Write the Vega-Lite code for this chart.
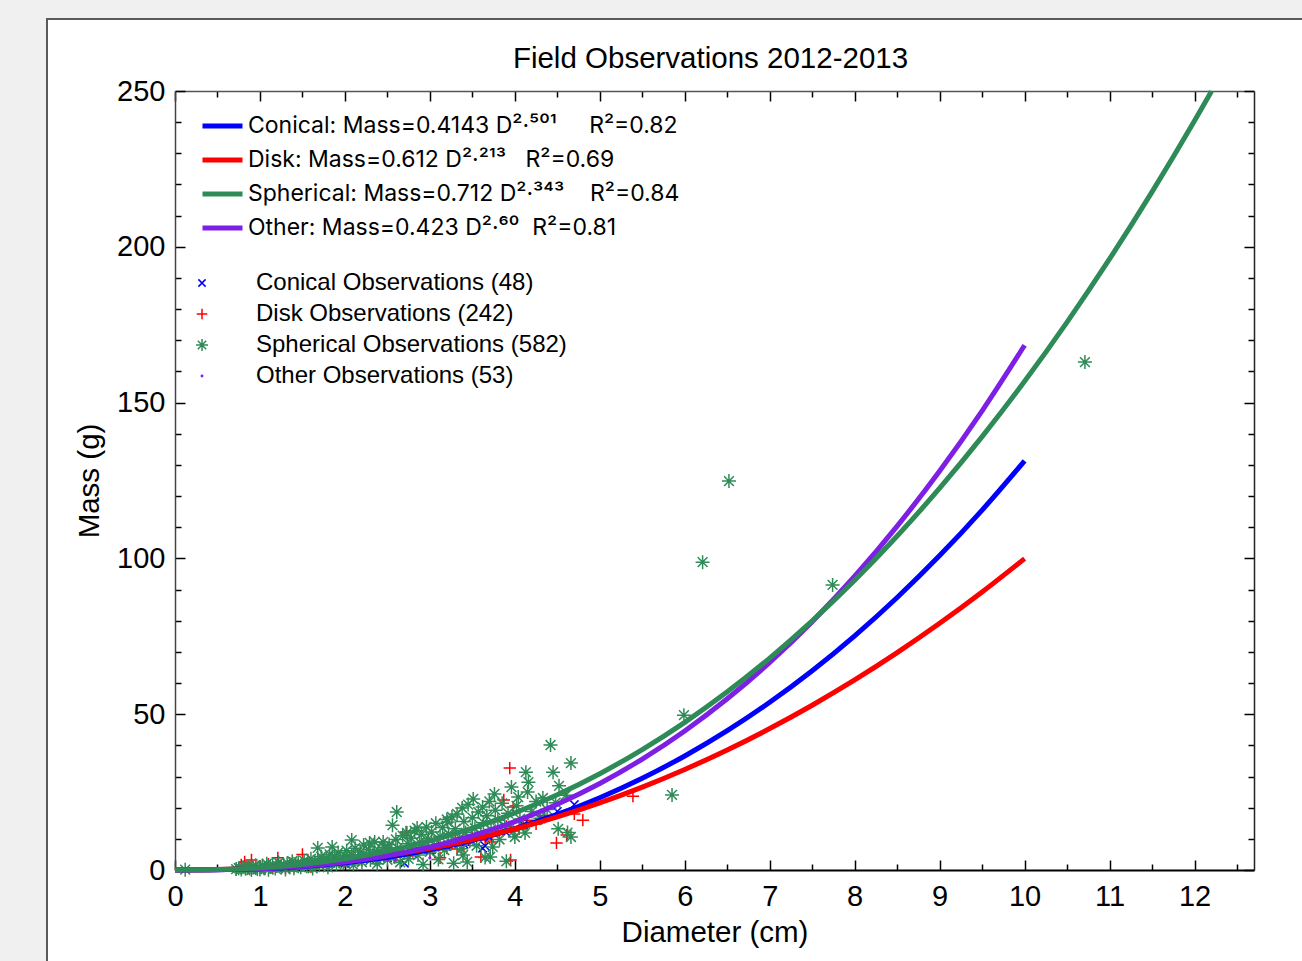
{
  "$schema": "https://vega.github.io/schema/vega-lite/v6.json",
  "width": 1257,
  "height": 944,
  "autosize": {"type": "none"},
  "padding": {"left": 47, "top": 19, "right": -2, "bottom": -2},
  "background": "#f0f0f0",
  "title": {
    "text": "Field Observations 2012-2013",
    "font": "Liberation Sans",
    "fontSize": 29.5,
    "fontWeight": "normal",
    "color": "black",
    "anchor": "middle",
    "frame": "group",
    "dx": 35,
    "dy": 59
  },
  "datasets": {
    "obs": [
      {"g": "Disk", "d": 0.72, "m": 0.2}, {"g": "Disk", "d": 0.78, "m": 1.6}, {"g": "Disk", "d": 0.82, "m": 2.6}, {"g": "Disk", "d": 0.86, "m": 0.5},
      {"g": "Disk", "d": 0.9, "m": 3.2}, {"g": "Disk", "d": 0.95, "m": 0.9}, {"g": "Disk", "d": 1.0, "m": 1.2}, {"g": "Disk", "d": 1.05, "m": 0.3},
      {"g": "Disk", "d": 1.1, "m": 1.9}, {"g": "Disk", "d": 1.15, "m": 0.7}, {"g": "Disk", "d": 1.21, "m": 3.9}, {"g": "Disk", "d": 1.25, "m": 1.5},
      {"g": "Disk", "d": 1.3, "m": 0.6}, {"g": "Disk", "d": 1.35, "m": 2.2}, {"g": "Disk", "d": 1.4, "m": 1.1}, {"g": "Disk", "d": 1.5, "m": 5.0},
      {"g": "Disk", "d": 1.55, "m": 2.0}, {"g": "Disk", "d": 1.6, "m": 1.0}, {"g": "Disk", "d": 1.7, "m": 3.0}, {"g": "Disk", "d": 1.8, "m": 2.1},
      {"g": "Disk", "d": 1.9, "m": 3.4}, {"g": "Disk", "d": 2.0, "m": 2.6}, {"g": "Disk", "d": 2.1, "m": 4.4}, {"g": "Disk", "d": 2.2, "m": 3.1},
      {"g": "Disk", "d": 2.3, "m": 4.8}, {"g": "Disk", "d": 2.4, "m": 3.5}, {"g": "Disk", "d": 2.5, "m": 5.5}, {"g": "Disk", "d": 2.6, "m": 4.1},
      {"g": "Disk", "d": 2.72, "m": 12.2}, {"g": "Disk", "d": 2.8, "m": 5.9}, {"g": "Disk", "d": 2.9, "m": 7.2}, {"g": "Disk", "d": 3.0, "m": 5.4},
      {"g": "Disk", "d": 3.1, "m": 8.4}, {"g": "Disk", "d": 3.12, "m": 3.9}, {"g": "Disk", "d": 3.2, "m": 7.0}, {"g": "Disk", "d": 3.3, "m": 9.5},
      {"g": "Disk", "d": 3.32, "m": 6.7}, {"g": "Disk", "d": 3.4, "m": 8.0}, {"g": "Disk", "d": 3.5, "m": 10.8}, {"g": "Disk", "d": 3.6, "m": 4.2},
      {"g": "Disk", "d": 3.65, "m": 9.6}, {"g": "Disk", "d": 3.73, "m": 9.0}, {"g": "Disk", "d": 3.8, "m": 12.5}, {"g": "Disk", "d": 3.87, "m": 22.5},
      {"g": "Disk", "d": 3.9, "m": 14.0}, {"g": "Disk", "d": 3.94, "m": 32.7}, {"g": "Disk", "d": 3.95, "m": 3.2}, {"g": "Disk", "d": 3.98, "m": 20.2},
      {"g": "Disk", "d": 4.05, "m": 13.2}, {"g": "Disk", "d": 4.15, "m": 16.0}, {"g": "Disk", "d": 4.25, "m": 14.8}, {"g": "Disk", "d": 4.35, "m": 17.5},
      {"g": "Disk", "d": 4.49, "m": 8.7}, {"g": "Disk", "d": 4.61, "m": 11.2}, {"g": "Disk", "d": 4.7, "m": 18.0}, {"g": "Disk", "d": 4.8, "m": 16.0},
      {"g": "Disk", "d": 5.39, "m": 23.7},
      {"g": "Conical", "d": 1.2, "m": 0.9}, {"g": "Conical", "d": 1.6, "m": 1.5}, {"g": "Conical", "d": 2.0, "m": 2.2}, {"g": "Conical", "d": 2.3, "m": 3.3},
      {"g": "Conical", "d": 2.5, "m": 3.9}, {"g": "Conical", "d": 2.7, "m": 2.2}, {"g": "Conical", "d": 2.8, "m": 5.2}, {"g": "Conical", "d": 3.0, "m": 6.0},
      {"g": "Conical", "d": 3.2, "m": 7.5}, {"g": "Conical", "d": 3.4, "m": 8.3}, {"g": "Conical", "d": 3.5, "m": 9.1}, {"g": "Conical", "d": 3.62, "m": 7.0},
      {"g": "Conical", "d": 3.65, "m": 7.7}, {"g": "Conical", "d": 3.7, "m": 10.5}, {"g": "Conical", "d": 3.9, "m": 12.0}, {"g": "Conical", "d": 4.1, "m": 14.5},
      {"g": "Conical", "d": 4.3, "m": 16.5}, {"g": "Conical", "d": 4.5, "m": 18.8}, {"g": "Conical", "d": 4.7, "m": 21.0},
      {"g": "Spherical", "d": 0.12, "m": 0.1},
      {"g": "Spherical", "d": 0.72, "m": 0.3}, {"g": "Spherical", "d": 0.75, "m": 0.6}, {"g": "Spherical", "d": 0.78, "m": 0.2}, {"g": "Spherical", "d": 0.8, "m": 0.9},
      {"g": "Spherical", "d": 0.83, "m": 0.4}, {"g": "Spherical", "d": 0.86, "m": 1.2}, {"g": "Spherical", "d": 0.88, "m": 0.5}, {"g": "Spherical", "d": 0.9, "m": 0.0},
      {"g": "Spherical", "d": 0.92, "m": 0.8}, {"g": "Spherical", "d": 0.95, "m": 1.5}, {"g": "Spherical", "d": 0.97, "m": 0.3}, {"g": "Spherical", "d": 1.0, "m": 0.9},
      {"g": "Spherical", "d": 1.0, "m": 0.2},
      {"g": "Spherical", "d": 1.03, "m": 1.4}, {"g": "Spherical", "d": 1.06, "m": 0.6}, {"g": "Spherical", "d": 1.08, "m": 2.0}, {"g": "Spherical", "d": 1.1, "m": 0.1},
      {"g": "Spherical", "d": 1.12, "m": 1.0}, {"g": "Spherical", "d": 1.15, "m": 1.8}, {"g": "Spherical", "d": 1.18, "m": 0.5}, {"g": "Spherical", "d": 1.2, "m": 1.3},
      {"g": "Spherical", "d": 1.22, "m": 2.4}, {"g": "Spherical", "d": 1.25, "m": 0.8}, {"g": "Spherical", "d": 1.28, "m": 1.6}, {"g": "Spherical", "d": 1.3, "m": 0.2},
      {"g": "Spherical", "d": 1.32, "m": 2.2}, {"g": "Spherical", "d": 1.35, "m": 1.1}, {"g": "Spherical", "d": 1.38, "m": 2.8}, {"g": "Spherical", "d": 1.4, "m": 0.6},
      {"g": "Spherical", "d": 1.42, "m": 1.7}, {"g": "Spherical", "d": 1.45, "m": 2.5}, {"g": "Spherical", "d": 1.48, "m": 0.9}, {"g": "Spherical", "d": 1.5, "m": 1.9},
      {"g": "Spherical", "d": 1.52, "m": 3.0}, {"g": "Spherical", "d": 1.55, "m": 1.2}, {"g": "Spherical", "d": 1.57, "m": 2.4}, {"g": "Spherical", "d": 1.6, "m": 3.6},
      {"g": "Spherical", "d": 1.62, "m": 0.5}, {"g": "Spherical", "d": 1.65, "m": 2.0}, {"g": "Spherical", "d": 1.68, "m": 7.1}, {"g": "Spherical", "d": 1.68, "m": 3.2},
      {"g": "Spherical", "d": 1.7, "m": 1.5}, {"g": "Spherical", "d": 1.72, "m": 4.3}, {"g": "Spherical", "d": 1.75, "m": 2.6}, {"g": "Spherical", "d": 1.78, "m": 3.8},
      {"g": "Spherical", "d": 1.8, "m": 0.9}, {"g": "Spherical", "d": 1.82, "m": 5.0}, {"g": "Spherical", "d": 1.85, "m": 7.4}, {"g": "Spherical", "d": 1.85, "m": 2.9},
      {"g": "Spherical", "d": 1.88, "m": 4.2}, {"g": "Spherical", "d": 1.9, "m": 1.8}, {"g": "Spherical", "d": 1.92, "m": 5.6}, {"g": "Spherical", "d": 1.95, "m": 3.3},
      {"g": "Spherical", "d": 1.98, "m": 2.2}, {"g": "Spherical", "d": 2.0, "m": 4.6},
      {"g": "Spherical", "d": 2.02, "m": 6.2}, {"g": "Spherical", "d": 2.05, "m": 2.8}, {"g": "Spherical", "d": 2.08, "m": 9.6}, {"g": "Spherical", "d": 2.08, "m": 4.9},
      {"g": "Spherical", "d": 2.1, "m": 1.6}, {"g": "Spherical", "d": 2.12, "m": 7.0}, {"g": "Spherical", "d": 2.15, "m": 3.9}, {"g": "Spherical", "d": 2.18, "m": 5.8},
      {"g": "Spherical", "d": 2.2, "m": 2.5}, {"g": "Spherical", "d": 2.22, "m": 8.0}, {"g": "Spherical", "d": 2.25, "m": 4.7}, {"g": "Spherical", "d": 2.28, "m": 6.6},
      {"g": "Spherical", "d": 2.29, "m": 8.7}, {"g": "Spherical", "d": 2.3, "m": 3.2}, {"g": "Spherical", "d": 2.33, "m": 5.4}, {"g": "Spherical", "d": 2.35, "m": 9.0},
      {"g": "Spherical", "d": 2.38, "m": 2.0}, {"g": "Spherical", "d": 2.4, "m": 6.2}, {"g": "Spherical", "d": 2.42, "m": 4.0}, {"g": "Spherical", "d": 2.45, "m": 9.0},
      {"g": "Spherical", "d": 2.46, "m": 7.3}, {"g": "Spherical", "d": 2.48, "m": 5.0}, {"g": "Spherical", "d": 2.5, "m": 3.3},
      {"g": "Spherical", "d": 2.52, "m": 8.2}, {"g": "Spherical", "d": 2.55, "m": 6.0}, {"g": "Spherical", "d": 2.56, "m": 14.4}, {"g": "Spherical", "d": 2.58, "m": 4.2},
      {"g": "Spherical", "d": 2.61, "m": 18.6}, {"g": "Spherical", "d": 2.6, "m": 9.8}, {"g": "Spherical", "d": 2.62, "m": 7.0}, {"g": "Spherical", "d": 2.65, "m": 2.5},
      {"g": "Spherical", "d": 2.68, "m": 11.0}, {"g": "Spherical", "d": 2.7, "m": 5.5}, {"g": "Spherical", "d": 2.73, "m": 11.9}, {"g": "Spherical", "d": 2.74, "m": 8.4},
      {"g": "Spherical", "d": 2.75, "m": 3.6}, {"g": "Spherical", "d": 2.78, "m": 10.2}, {"g": "Spherical", "d": 2.8, "m": 6.8}, {"g": "Spherical", "d": 2.82, "m": 12.6},
      {"g": "Spherical", "d": 2.85, "m": 13.5}, {"g": "Spherical", "d": 2.86, "m": 4.8}, {"g": "Spherical", "d": 2.88, "m": 8.9}, {"g": "Spherical", "d": 2.9, "m": 11.4},
      {"g": "Spherical", "d": 2.92, "m": 1.8}, {"g": "Spherical", "d": 2.94, "m": 7.5}, {"g": "Spherical", "d": 2.96, "m": 13.8}, {"g": "Spherical", "d": 2.98, "m": 10.0},
      {"g": "Spherical", "d": 3.0, "m": 5.8},
      {"g": "Spherical", "d": 3.02, "m": 12.2}, {"g": "Spherical", "d": 3.05, "m": 8.0}, {"g": "Spherical", "d": 3.07, "m": 15.0}, {"g": "Spherical", "d": 3.1, "m": 3.4},
      {"g": "Spherical", "d": 3.12, "m": 10.8}, {"g": "Spherical", "d": 3.15, "m": 13.6}, {"g": "Spherical", "d": 3.17, "m": 6.4}, {"g": "Spherical", "d": 3.2, "m": 16.2},
      {"g": "Spherical", "d": 3.21, "m": 15.4}, {"g": "Spherical", "d": 3.22, "m": 11.6}, {"g": "Spherical", "d": 3.25, "m": 8.6}, {"g": "Spherical", "d": 3.26, "m": 17.0},
      {"g": "Spherical", "d": 3.28, "m": 2.2}, {"g": "Spherical", "d": 3.3, "m": 13.2}, {"g": "Spherical", "d": 3.32, "m": 18.0}, {"g": "Spherical", "d": 3.35, "m": 10.4},
      {"g": "Spherical", "d": 3.38, "m": 19.9}, {"g": "Spherical", "d": 3.37, "m": 6.8}, {"g": "Spherical", "d": 3.39, "m": 4.8}, {"g": "Spherical", "d": 3.4, "m": 15.6},
      {"g": "Spherical", "d": 3.42, "m": 12.0}, {"g": "Spherical", "d": 3.44, "m": 2.6}, {"g": "Spherical", "d": 3.45, "m": 21.0}, {"g": "Spherical", "d": 3.47, "m": 9.2},
      {"g": "Spherical", "d": 3.5, "m": 16.8},
      {"g": "Spherical", "d": 3.51, "m": 22.8}, {"g": "Spherical", "d": 3.53, "m": 13.4}, {"g": "Spherical", "d": 3.55, "m": 7.8}, {"g": "Spherical", "d": 3.57, "m": 18.6},
      {"g": "Spherical", "d": 3.6, "m": 11.2}, {"g": "Spherical", "d": 3.62, "m": 20.2}, {"g": "Spherical", "d": 3.63, "m": 15.2}, {"g": "Spherical", "d": 3.65, "m": 4.0},
      {"g": "Spherical", "d": 3.67, "m": 17.4}, {"g": "Spherical", "d": 3.7, "m": 22.0}, {"g": "Spherical", "d": 3.71, "m": 4.2}, {"g": "Spherical", "d": 3.72, "m": 13.0},
      {"g": "Spherical", "d": 3.74, "m": 7.4}, {"g": "Spherical", "d": 3.76, "m": 24.4}, {"g": "Spherical", "d": 3.77, "m": 19.2}, {"g": "Spherical", "d": 3.8, "m": 16.0},
      {"g": "Spherical", "d": 3.82, "m": 9.8}, {"g": "Spherical", "d": 3.85, "m": 21.4}, {"g": "Spherical", "d": 3.88, "m": 14.2}, {"g": "Spherical", "d": 3.9, "m": 2.8},
      {"g": "Spherical", "d": 3.92, "m": 18.2}, {"g": "Spherical", "d": 3.96, "m": 26.6}, {"g": "Spherical", "d": 3.98, "m": 12.4}, {"g": "Spherical", "d": 4.0, "m": 10.6},
      {"g": "Spherical", "d": 4.02, "m": 20.6}, {"g": "Spherical", "d": 4.04, "m": 23.4}, {"g": "Spherical", "d": 4.06, "m": 16.4}, {"g": "Spherical", "d": 4.1, "m": 14.0},
      {"g": "Spherical", "d": 4.12, "m": 11.9}, {"g": "Spherical", "d": 4.13, "m": 31.4}, {"g": "Spherical", "d": 4.15, "m": 25.0}, {"g": "Spherical", "d": 4.16, "m": 28.2},
      {"g": "Spherical", "d": 4.2, "m": 18.8}, {"g": "Spherical", "d": 4.25, "m": 22.0}, {"g": "Spherical", "d": 4.3, "m": 16.6}, {"g": "Spherical", "d": 4.33, "m": 23.1},
      {"g": "Spherical", "d": 4.38, "m": 19.4}, {"g": "Spherical", "d": 4.42, "m": 40.1}, {"g": "Spherical", "d": 4.45, "m": 31.4}, {"g": "Spherical", "d": 4.48, "m": 21.6},
      {"g": "Spherical", "d": 4.51, "m": 13.2}, {"g": "Spherical", "d": 4.52, "m": 27.0}, {"g": "Spherical", "d": 4.6, "m": 24.0}, {"g": "Spherical", "d": 4.66, "m": 34.3},
      {"g": "Spherical", "d": 4.66, "m": 10.6}, {"g": "Spherical", "d": 4.62, "m": 12.0},
      {"g": "Spherical", "d": 5.85, "m": 24.1}, {"g": "Spherical", "d": 5.99, "m": 49.7}, {"g": "Spherical", "d": 6.21, "m": 98.8}, {"g": "Spherical", "d": 6.52, "m": 124.8},
      {"g": "Spherical", "d": 7.74, "m": 91.5}, {"g": "Spherical", "d": 10.71, "m": 163.0},
      {"g": "Other", "d": 1.5, "m": 1.0}, {"g": "Other", "d": 1.7, "m": 1.5}, {"g": "Other", "d": 1.9, "m": 2.0}, {"g": "Other", "d": 2.1, "m": 2.6},
      {"g": "Other", "d": 2.3, "m": 3.4}, {"g": "Other", "d": 2.5, "m": 3.2}, {"g": "Other", "d": 2.59, "m": 3.2}, {"g": "Other", "d": 2.7, "m": 4.5},
      {"g": "Other", "d": 2.9, "m": 5.8}, {"g": "Other", "d": 3.0, "m": 3.9}, {"g": "Other", "d": 3.1, "m": 6.4}, {"g": "Other", "d": 3.18, "m": 7.1},
      {"g": "Other", "d": 3.3, "m": 7.6}, {"g": "Other", "d": 3.45, "m": 8.8}, {"g": "Other", "d": 3.6, "m": 10.3}, {"g": "Other", "d": 3.75, "m": 11.6},
      {"g": "Other", "d": 3.9, "m": 13.2}, {"g": "Other", "d": 4.1, "m": 14.8}, {"g": "Other", "d": 4.3, "m": 17.0}
    ],
    "fits": [
      {"fit": "Conical", "d": 0, "m": 0}, {"fit": "Conical", "d": 0.5, "m": 0.073}, {"fit": "Conical", "d": 1, "m": 0.414},
      {"fit": "Conical", "d": 1.5, "m": 1.142}, {"fit": "Conical", "d": 2, "m": 2.345}, {"fit": "Conical", "d": 2.5, "m": 4.098},
      {"fit": "Conical", "d": 3, "m": 6.466}, {"fit": "Conical", "d": 3.5, "m": 9.507}, {"fit": "Conical", "d": 4, "m": 13.277},
      {"fit": "Conical", "d": 4.5, "m": 17.822}, {"fit": "Conical", "d": 5, "m": 23.198}, {"fit": "Conical", "d": 5.5, "m": 29.443},
      {"fit": "Conical", "d": 6, "m": 36.598}, {"fit": "Conical", "d": 6.5, "m": 44.71}, {"fit": "Conical", "d": 7, "m": 53.82},
      {"fit": "Conical", "d": 7.5, "m": 63.95}, {"fit": "Conical", "d": 8, "m": 75.15}, {"fit": "Conical", "d": 8.5, "m": 87.46},
      {"fit": "Conical", "d": 9, "m": 100.9}, {"fit": "Conical", "d": 9.5, "m": 115.51}, {"fit": "Conical", "d": 10, "m": 131.32},
      {"fit": "Disk", "d": 0, "m": 0}, {"fit": "Disk", "d": 0.5, "m": 0.132}, {"fit": "Disk", "d": 1, "m": 0.612},
      {"fit": "Disk", "d": 1.5, "m": 1.501}, {"fit": "Disk", "d": 2, "m": 2.838}, {"fit": "Disk", "d": 2.5, "m": 4.649},
      {"fit": "Disk", "d": 3, "m": 6.96}, {"fit": "Disk", "d": 3.5, "m": 9.79}, {"fit": "Disk", "d": 4, "m": 13.156},
      {"fit": "Disk", "d": 4.5, "m": 17.073}, {"fit": "Disk", "d": 5, "m": 21.556}, {"fit": "Disk", "d": 5.5, "m": 26.618},
      {"fit": "Disk", "d": 6, "m": 32.27}, {"fit": "Disk", "d": 6.5, "m": 38.52}, {"fit": "Disk", "d": 7, "m": 45.39},
      {"fit": "Disk", "d": 7.5, "m": 52.88}, {"fit": "Disk", "d": 8, "m": 60.99}, {"fit": "Disk", "d": 8.5, "m": 69.75},
      {"fit": "Disk", "d": 9, "m": 79.16}, {"fit": "Disk", "d": 9.5, "m": 89.22}, {"fit": "Disk", "d": 10, "m": 99.93},
      {"fit": "Other", "d": 0, "m": 0}, {"fit": "Other", "d": 0.5, "m": 0.07}, {"fit": "Other", "d": 1, "m": 0.423},
      {"fit": "Other", "d": 1.5, "m": 1.214}, {"fit": "Other", "d": 2, "m": 2.565}, {"fit": "Other", "d": 2.5, "m": 4.581},
      {"fit": "Other", "d": 3, "m": 7.36}, {"fit": "Other", "d": 3.5, "m": 10.988}, {"fit": "Other", "d": 4, "m": 15.549},
      {"fit": "Other", "d": 4.5, "m": 21.12}, {"fit": "Other", "d": 5, "m": 27.776}, {"fit": "Other", "d": 5.5, "m": 35.59},
      {"fit": "Other", "d": 6, "m": 44.62}, {"fit": "Other", "d": 6.5, "m": 54.94}, {"fit": "Other", "d": 7, "m": 66.62},
      {"fit": "Other", "d": 7.5, "m": 79.71}, {"fit": "Other", "d": 8, "m": 94.27}, {"fit": "Other", "d": 8.5, "m": 110.37},
      {"fit": "Other", "d": 9, "m": 128.05}, {"fit": "Other", "d": 9.5, "m": 147.37}, {"fit": "Other", "d": 10, "m": 168.4},
      {"fit": "Spherical", "d": 0, "m": 0}, {"fit": "Spherical", "d": 0.5, "m": 0.14}, {"fit": "Spherical", "d": 1, "m": 0.712},
      {"fit": "Spherical", "d": 1.5, "m": 1.841}, {"fit": "Spherical", "d": 2, "m": 3.613}, {"fit": "Spherical", "d": 2.5, "m": 6.093},
      {"fit": "Spherical", "d": 3, "m": 9.341}, {"fit": "Spherical", "d": 3.5, "m": 13.404}, {"fit": "Spherical", "d": 4, "m": 18.328},
      {"fit": "Spherical", "d": 4.5, "m": 24.152}, {"fit": "Spherical", "d": 5, "m": 30.915}, {"fit": "Spherical", "d": 5.5, "m": 38.65},
      {"fit": "Spherical", "d": 6, "m": 47.39}, {"fit": "Spherical", "d": 6.5, "m": 57.17}, {"fit": "Spherical", "d": 7, "m": 68.01},
      {"fit": "Spherical", "d": 7.5, "m": 79.94}, {"fit": "Spherical", "d": 8, "m": 92.99}, {"fit": "Spherical", "d": 8.5, "m": 107.18},
      {"fit": "Spherical", "d": 9, "m": 122.54}, {"fit": "Spherical", "d": 9.5, "m": 139.09}, {"fit": "Spherical", "d": 10, "m": 156.85},
      {"fit": "Spherical", "d": 10.5, "m": 175.84}, {"fit": "Spherical", "d": 11, "m": 196.1}, {"fit": "Spherical", "d": 11.5, "m": 217.62},
      {"fit": "Spherical", "d": 12, "m": 240.44}, {"fit": "Spherical", "d": 12.2, "m": 249.93}
    ]
  },
  "layer": [
    {
      "data": {"name": "obs"},
      "mark": {"type": "point", "filled": false, "strokeWidth": 1.5, "size": 196, "opacity": 1},
      "encoding": {
        "x": {
          "field": "d", "type": "quantitative",
          "scale": {"domain": [0, 12.7], "range": [128, 1207], "nice": false, "zero": false},
          "axis": {
            "orient": "bottom", "offset": -93,
            "values": [0, 0.5, 1, 1.5, 2, 2.5, 3, 3.5, 4, 4.5, 5, 5.5, 6, 6.5, 7, 7.5, 8, 8.5, 9, 9.5, 10, 10.5, 11, 11.5, 12, 12.5],
            "tickSize": {"expr": "datum.value % 1 === 0 ? -10 : -6"},
            "labelExpr": "datum.value % 1 === 0 ? format(datum.value, 'd') : ''",
            "labelPadding": 22,
            "domainColor": "black", "domainWidth": 2,
            "title": "Diameter (cm)", "titlePadding": 3
          }
        },
        "y": {
          "field": "m", "type": "quantitative",
          "scale": {"domain": [0, 250], "range": [851, 72], "nice": false, "zero": false},
          "axis": {
            "orient": "left", "offset": -128,
            "values": [0, 10, 20, 30, 40, 50, 60, 70, 80, 90, 100, 110, 120, 130, 140, 150, 160, 170, 180, 190, 200, 210, 220, 230, 240, 250],
            "tickSize": {"expr": "datum.value % 50 === 0 ? -10 : -6"},
            "labelExpr": "datum.value % 50 === 0 ? datum.label : ''",
            "labelPadding": 20,
            "domainColor": "#444444", "domainWidth": 1.5,
            "title": "Mass (g)", "titlePadding": 12
          }
        },
        "color": {
          "field": "g", "type": "nominal",
          "scale": {"domain": ["Conical", "Disk", "Spherical", "Other"], "range": ["#0000ff", "#ff0000", "#2e8b57", "#7e1fe6"]},
          "legend": {
            "orient": "none", "legendX": 143, "legendY": 252, "title": null, "direction": "vertical",
            "labelFontSize": 24, "labelOffset": 42, "rowPadding": 7, "symbolSize": 144, "symbolStrokeWidth": 1.5,
            "labelExpr": "datum.label === 'Conical' ? 'Conical Observations (48)' : datum.label === 'Disk' ? 'Disk Observations (242)' : datum.label === 'Spherical' ? 'Spherical Observations (582)' : 'Other Observations (53)'"
          }
        },
        "shape": {
          "field": "g", "type": "nominal",
          "scale": {
            "domain": ["Conical", "Disk", "Spherical", "Other"],
            "range": [
              "M-0.6,-0.6L0.6,0.6M-0.6,0.6L0.6,-0.6",
              "M-0.88,0L0.88,0M0,-0.88L0,0.88",
              "M-1,0L1,0M0,-1L0,1M-0.7,-0.7L0.7,0.7M-0.7,0.7L0.7,-0.7",
              "M0,-0.12A0.12,0.12 0 1,1 0,0.12A0.12,0.12 0 1,1 0,-0.12Z"
            ]
          },
          "legend": {
            "orient": "none", "legendX": 143, "legendY": 252, "title": null, "direction": "vertical",
            "labelFontSize": 24, "labelOffset": 42, "rowPadding": 7, "symbolSize": 144, "symbolStrokeWidth": 1.5,
            "labelExpr": "datum.label === 'Conical' ? 'Conical Observations (48)' : datum.label === 'Disk' ? 'Disk Observations (242)' : datum.label === 'Spherical' ? 'Spherical Observations (582)' : 'Other Observations (53)'"
          }
        }
      }
    },
    {
      "data": {"name": "fits"},
      "mark": {"type": "line", "strokeWidth": 5, "interpolate": "monotone"},
      "encoding": {
        "x": {
          "field": "d", "type": "quantitative",
          "scale": {"domain": [0, 12.7], "range": [128, 1207], "nice": false, "zero": false},
          "axis": {
            "orient": "top", "offset": -72,
            "values": [0, 0.5, 1, 1.5, 2, 2.5, 3, 3.5, 4, 4.5, 5, 5.5, 6, 6.5, 7, 7.5, 8, 8.5, 9, 9.5, 10, 10.5, 11, 11.5, 12, 12.5],
            "tickSize": {"expr": "datum.value % 1 === 0 ? -10 : -6"},
            "labels": false, "title": null,
            "domainColor": "#555555", "domainWidth": 1.5
          }
        },
        "y": {
          "field": "m", "type": "quantitative",
          "scale": {"domain": [0, 250], "range": [851, 72], "nice": false, "zero": false},
          "axis": {
            "orient": "right", "offset": -50,
            "values": [0, 10, 20, 30, 40, 50, 60, 70, 80, 90, 100, 110, 120, 130, 140, 150, 160, 170, 180, 190, 200, 210, 220, 230, 240, 250],
            "tickSize": {"expr": "datum.value % 50 === 0 ? -10 : -6"},
            "labels": false, "title": null,
            "domainColor": "#222222", "domainWidth": 1.5
          }
        },
        "color": {
          "field": "fit", "type": "nominal",
          "scale": {"domain": ["Conical", "Disk", "Spherical", "Other"], "range": ["#0000ff", "#ff0000", "#2e8b57", "#7e1fe6"]},
          "legend": {
            "orient": "none", "legendX": 153, "legendY": 94, "title": null, "direction": "vertical",
            "symbolType": "stroke", "symbolSize": 1600, "symbolStrokeWidth": 5,
            "labelFont": "Inter", "labelFontSize": 23, "labelOffset": 3, "rowPadding": 8, "clipHeight": 26,
            "labelExpr": "datum.label === 'Conical' ? 'Conical: Mass=0.4143 D²·⁵⁰¹\u00a0\u00a0\u00a0\u00a0\u00a0R²=0.82' : datum.label === 'Disk' ? 'Disk: Mass=0.612 D²·²¹³\u00a0\u00a0\u00a0R²=0.69' : datum.label === 'Spherical' ? 'Spherical: Mass=0.712 D²·³⁴³\u00a0\u00a0\u00a0\u00a0R²=0.84' : 'Other: Mass=0.423 D²·⁶⁰\u00a0\u00a0R²=0.81'"
          }
        }
      }
    }
  ],
  "resolve": {
    "scale": {"color": "independent", "shape": "independent"},
    "axis": {"x": "independent", "y": "independent"}
  },
  "config": {
    "font": "Liberation Sans",
    "view": {"fill": "white", "stroke": "#5a5a5a", "strokeWidth": 2},
    "axis": {
      "grid": false,
      "labelFont": "Liberation Sans", "labelFontSize": 29, "labelColor": "black",
      "titleFont": "Liberation Sans", "titleFontSize": 29.5, "titleFontWeight": "normal", "titleColor": "black",
      "tickColor": "black", "tickWidth": 1.5,
      "labelFlush": false, "labelOverlap": false, "labelBound": false
    },
    "legend": {"labelFont": "Liberation Sans", "labelColor": "black", "padding": 0, "labelLimit": 0}
  }
}
